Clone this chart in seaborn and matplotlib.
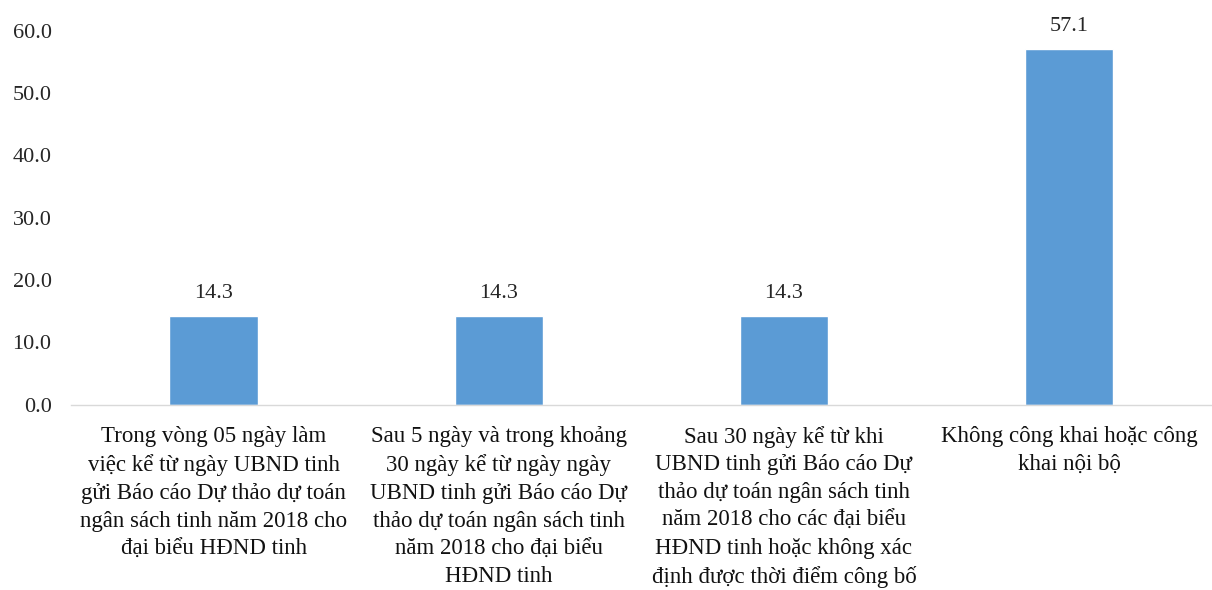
import matplotlib
matplotlib.use("Agg")
import matplotlib.pyplot as plt
import seaborn as sns
import pandas as pd

### Data
categories = [
    "Trong vòng 05 ngày làm\nviệc kể từ ngày UBND tinh\ngửi Báo cáo Dự thảo dự toán\nngân sách tinh năm 2018 cho\nđại biểu HĐND tinh",
    "Sau 5 ngày và trong khoảng\n30 ngày kể từ ngày ngày\nUBND tinh gửi Báo cáo Dự\nthảo dự toán ngân sách tinh\nnăm 2018 cho đại biểu\nHĐND tinh",
    "Sau 30 ngày kể từ khi\nUBND tinh gửi Báo cáo Dự\nthảo dự toán ngân sách tinh\nnăm 2018 cho các đại biểu\nHĐND tinh hoặc không xác\nđịnh được thời điểm công bố",
    "Không công khai hoặc công\nkhai nội bộ",
]
values = [14.3, 14.3, 14.3, 57.1]
yticks = [0, 10, 20, 30, 40, 50, 60]

df = pd.DataFrame({"cat": categories, "val": values})

### Style
sns.set_style("white")
plt.rcParams["font.family"] = ["Liberation Serif", "DejaVu Serif"]

fig = plt.figure(figsize=(12.12, 5.9), dpi=100)
ax = fig.add_axes([0.0586, 0.314, 0.941, 0.634])

sns.barplot(data=df, x="cat", y="val", color="#5B9BD5", width=0.31,
            saturation=1, ax=ax)

# value labels
for i, v in enumerate(values):
    ax.text(i, v + 2.0, f"{v:.1f}", ha="center", va="bottom",
            fontsize=16, color="#262626")

ax.set_ylim(0, 60)
ax.set_yticks(yticks)
ax.set_yticklabels([f"{t:.1f}" for t in yticks], fontsize=16, color="#262626")
ax.set_xticks(range(len(categories)))
ax.set_xticklabels(categories, fontsize=16.5, color="#111111", linespacing=1.43)
ax.tick_params(axis="both", length=0)
ax.tick_params(axis="x", pad=15)
ax.tick_params(axis="y", pad=14)
ax.set_xlabel("")
ax.set_ylabel("")

for s in ["top", "right", "left"]:
    ax.spines[s].set_visible(False)
ax.spines["bottom"].set_color("#d9d9d9")
ax.spines["bottom"].set_linewidth(1)

fig.savefig("out.png", dpi=100)
